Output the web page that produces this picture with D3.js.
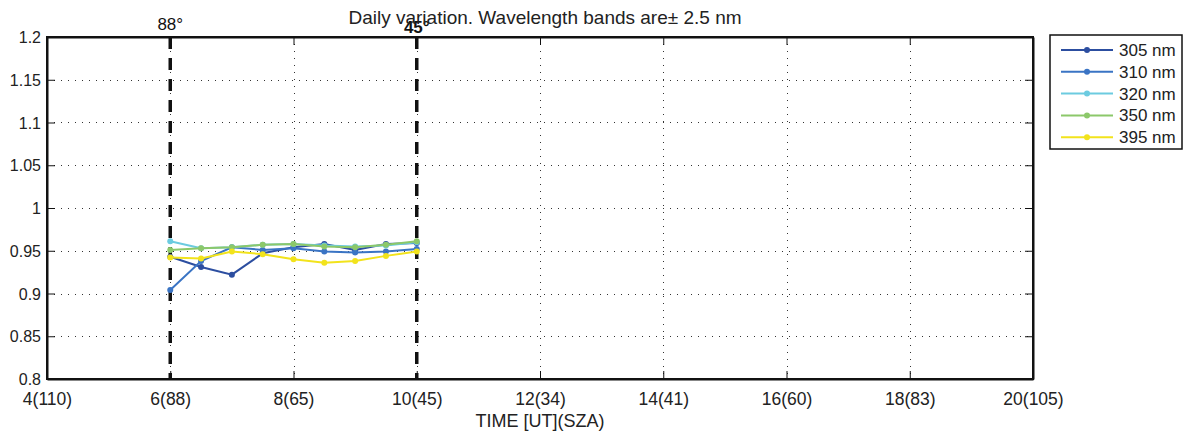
<!DOCTYPE html>
<html>
<head>
<meta charset="utf-8">
<script src="https://cdn.jsdelivr.net/npm/d3@7"></script>
<style>
  html, body { margin: 0; padding: 0; background: #fff; }
  svg { display: block; font-family: "Liberation Sans", Arial, sans-serif; }
</style>
</head>
<body>
<svg id="chart" width="1192" height="432"></svg>
<script>
// Measurement times (UT hours)
const times = [6, 6.5, 7, 7.5, 8, 8.5, 9, 9.5, 10];

// Normalised ratio per wavelength band
const s305 = [0.943, 0.931, 0.922, 0.947, 0.954, 0.958, 0.951, 0.958, 0.959];
const s310 = [0.904, 0.938, 0.954, 0.951, 0.953, 0.949, 0.948, 0.949, 0.952];
const s320 = [0.961, 0.953, 0.954, 0.957, 0.958, 0.956, 0.955, 0.956, 0.960];
const s350 = [0.951, 0.953, 0.954, 0.957, 0.958, 0.955, 0.954, 0.957, 0.961];
const s395 = [0.942, 0.941, 0.949, 0.946, 0.940, 0.936, 0.938, 0.944, 0.949];

const seriesNames = ["305 nm", "310 nm", "320 nm", "350 nm", "395 nm"];
const seriesColors = ["#2c4ea0", "#3a74c4", "#6ccbe0", "#8cc86a", "#f2e31c"];

// Axis ticks
const xTickValues = [4, 6, 8, 10, 12, 14, 16, 18, 20];
const xTickLabels = ["4(110)", "6(88)", "8(65)", "10(45)", "12(34)", "14(41)", "16(60)", "18(83)", "20(105)"];
const yTickValues = [0.8, 0.85, 0.9, 0.95, 1, 1.05, 1.1, 1.15, 1.2];

// Solar zenith angle markers
const szaTimes = [6, 10];
const szaLabels = ["88°", "45°"];

const series = [s305, s310, s320, s350, s395].map((vals, i) => ({
  name: seriesNames[i],
  color: seriesColors[i],
  values: vals.map((v, j) => ({ t: times[j], v }))
}));

const svg = d3.select("#chart");
const L = 47, R = 1033, T = 37, B = 379;
const FONT = "'Liberation Sans', Arial, sans-serif";

const x = d3.scaleLinear().domain([4, 20]).range([L, R]);
const y = d3.scaleLinear().domain([0.8, 1.2]).range([B, T]);

// Dotted grid
const grid = svg.append("g").attr("stroke", "#333").attr("stroke-width", 1)
  .attr("stroke-dasharray", "1,6");
grid.selectAll("line.gx").data(xTickValues.slice(1, -1)).join("line")
  .attr("x1", d => Math.round(x(d)) + 0.5).attr("x2", d => Math.round(x(d)) + 0.5)
  .attr("y1", T).attr("y2", B);
grid.selectAll("line.gy").data(yTickValues.slice(1, -1)).join("line")
  .attr("x1", L).attr("x2", R)
  .attr("y1", d => Math.round(y(d)) + 0.5).attr("y2", d => Math.round(y(d)) + 0.5);

// Axes with inward ticks
const fmtX = d => xTickLabels[xTickValues.indexOf(d)];
const fmtY = d => d3.format("")(+d.toFixed(2));

const xBottom = svg.append("g").attr("transform", `translate(0,${B})`)
  .call(d3.axisBottom(x).tickValues(xTickValues).tickFormat(fmtX).tickSizeInner(-8).tickSizeOuter(0));
const xTop = svg.append("g").attr("transform", `translate(0,${T})`)
  .call(d3.axisTop(x).tickValues(xTickValues).tickFormat("").tickSizeInner(-8).tickSizeOuter(0));
const yLeft = svg.append("g").attr("transform", `translate(${L},0)`)
  .call(d3.axisLeft(y).tickValues(yTickValues).tickFormat(fmtY).tickSizeInner(-8).tickSizeOuter(0).tickPadding(6));
const yRight = svg.append("g").attr("transform", `translate(${R},0)`)
  .call(d3.axisRight(y).tickValues(yTickValues).tickFormat("").tickSizeInner(-8).tickSizeOuter(0));

[xBottom, xTop, yLeft, yRight].forEach(g => {
  g.select(".domain").attr("stroke", "#111").attr("stroke-width", 2);
  g.selectAll(".tick line").attr("stroke", "#111").attr("stroke-width", 1);
  g.selectAll(".tick text").attr("fill", "#222").attr("font-size", 16).attr("font-family", FONT);
});
xBottom.selectAll(".tick text").attr("dy", null).attr("y", 26).attr("font-size", 17.5);
yLeft.selectAll(".tick text").attr("dy", "0.35em");

// Frame
svg.append("rect").attr("x", L).attr("y", T).attr("width", R - L).attr("height", B - T)
  .attr("fill", "none").attr("stroke", "#111").attr("stroke-width", 2);

// SZA dashed markers
svg.selectAll("line.sza").data(szaTimes).join("line")
  .attr("x1", d => x(d)).attr("x2", d => x(d))
  .attr("y1", T).attr("y2", B)
  .attr("stroke", "#111").attr("stroke-width", 3.5).attr("stroke-dasharray", "12,9");
svg.selectAll("text.sza").data(szaTimes).join("text")
  .attr("x", d => x(d)).attr("y", (d, i) => i === 0 ? 30 : 33)
  .attr("text-anchor", "middle").attr("font-size", 17)
  .attr("font-weight", (d, i) => i === 1 ? "bold" : "normal")
  .attr("fill", "#111")
  .text((d, i) => szaLabels[i]);

// Series lines and markers
const line = d3.line().x(d => x(d.t)).y(d => y(d.v));
const sg = svg.append("g");
series.forEach(s => {
  sg.append("path").datum(s.values).attr("d", line)
    .attr("fill", "none").attr("stroke", s.color).attr("stroke-width", 2);
  sg.selectAll(null).data(s.values).join("circle")
    .attr("cx", d => x(d.t)).attr("cy", d => y(d.v)).attr("r", 3)
    .attr("fill", s.color);
});

// Title and axis label
svg.append("text").attr("x", 545).attr("y", 24).attr("text-anchor", "middle")
  .attr("font-size", 19).attr("fill", "#222")
  .text("Daily variation. Wavelength bands are\u00B1 2.5 nm");
svg.append("text").attr("x", (L + R) / 2).attr("y", 427).attr("text-anchor", "middle")
  .attr("font-size", 18).attr("fill", "#222")
  .text("TIME [UT](SZA)");

// Legend
const lg = svg.append("g");
lg.append("rect").attr("x", 1050).attr("y", 35).attr("width", 132).attr("height", 114)
  .attr("fill", "#fff").attr("stroke", "#111").attr("stroke-width", 1.5);
series.forEach((s, i) => {
  const yy = 50 + i * 21.8;
  lg.append("line").attr("x1", 1061).attr("x2", 1113).attr("y1", yy).attr("y2", yy)
    .attr("stroke", s.color).attr("stroke-width", 2);
  lg.append("circle").attr("cx", 1087).attr("cy", yy).attr("r", 3).attr("fill", s.color);
  lg.append("text").attr("x", 1119).attr("y", yy + 6).attr("font-size", 17).attr("fill", "#222")
    .text(s.name);
});
</script>
</body>
</html>
